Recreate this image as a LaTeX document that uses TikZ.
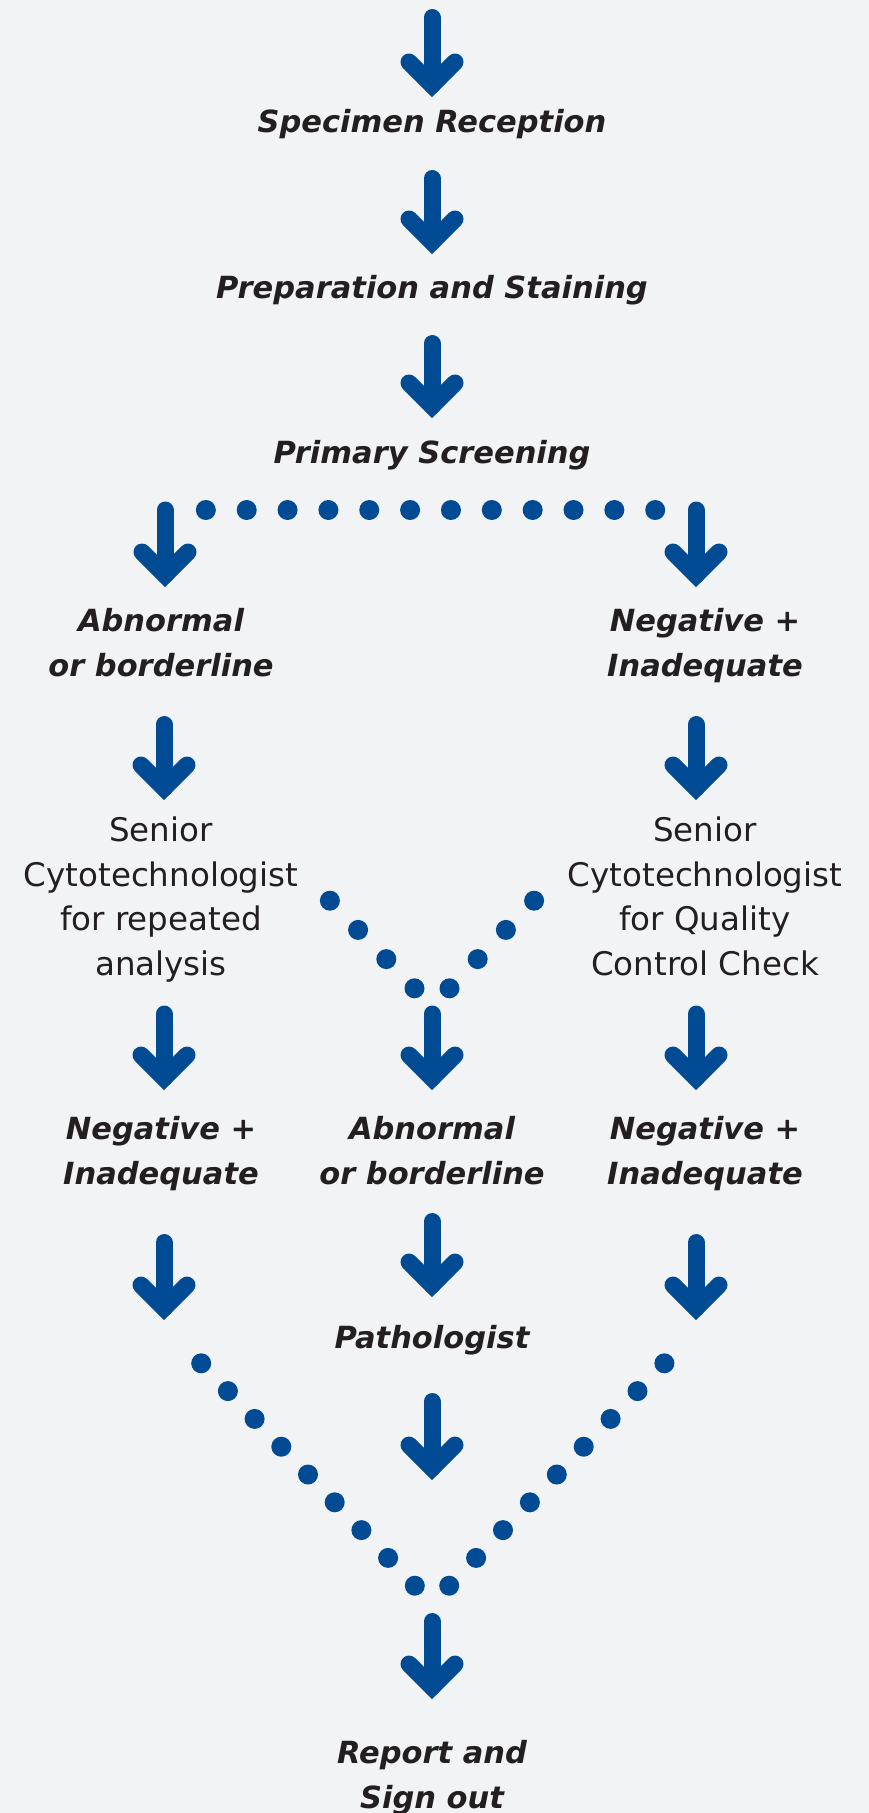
\documentclass[tikz,border=0pt]{standalone}
\usepackage{fontspec}
\setmainfont{DejaVu Sans}
\usetikzlibrary{calc}
\usetikzlibrary{positioning}

\definecolor{flowblue}{HTML}{004B93}
\definecolor{paper}{HTML}{F2F3F5}
\definecolor{ink}{HTML}{231F20}

\tikzset{
  arrowline/.style={draw=flowblue, line width=17pt, line cap=round},
  boldstep/.style={font=\fontsize{30.5}{45}\selectfont\bfseries\itshape, text=ink, align=center, inner sep=0pt,
    execute at begin node=\strut, execute at end node=\strut},
  plainstep/.style={font=\fontsize{32.5}{44.5}\selectfont, text=ink, align=center, inner sep=0pt,
    execute at begin node=\strut, execute at end node=\strut},
  flowdot/.style={fill=flowblue}
}

% thick arrow from #1 down to #2
\newcommand{\flowarrow}[2]{%
  \draw[arrowline] (#1) -- (#2);
  \draw[arrowline, line join=miter] ($(#2)+(-23,-23)$) -- (#2) -- ($(#2)+(23,-23)$);
}

\begin{document}
\begin{tikzpicture}[x=1pt, y=-1pt]
        \fill[paper] (0,0) rectangle (869,1813);
        \useasboundingbox (0,0) rectangle (869,1813);

        \node[boldstep] (reception) at (432,123) {Specimen Reception};
        \node[boldstep] (staining) at (432,289) {Preparation and Staining};
        \node[boldstep] (screening) at (432,454) {Primary Screening};

        \node[boldstep] (abnleft) at (161,649.5) {Abnormal\\or borderline};
        \node[boldstep] (negright) at (705,649.5) {Negative +\\Inadequate};

        \node[plainstep] (seniorleft) at (161,903) {Senior\\Cytotechnologist\\for repeated\\analysis};
        \node[plainstep] (seniorright) at (705,903) {Senior\\Cytotechnologist\\for Quality\\Control Check};

        \node[boldstep] (negleft) at (161,1157.5) {Negative +\\Inadequate};
        \node[boldstep] (abnmid) at (432,1157.5) {Abnormal\\or borderline};
        \node[boldstep] (negfar) at (705,1157.5) {Negative +\\Inadequate};

        \node[boldstep] (pathologist) at (432,1339) {Pathologist};
        \node[boldstep] (signout) at (432,1781) {Report and\\Sign out};

        % arrows: name/x/top/tip
        \foreach \n/\x/\t/\v in {a/432/17.5/85, b/432/178.5/242, c/432/343.5/406,
            d/165/510/575, e/696/510/575, f/164/724.5/788, g/696/724.5/788,
            h/164/1014/1078, i/432/1014/1078, j/696/1014/1078,
            k/164/1242.5/1308, l/432/1221.5/1285, m/696/1242.5/1308,
            n/432/1401.5/1468, o/432/1621.5/1687} {
          \coordinate (top\n) at (\x,\t);
          \coordinate (tip\n) at (\x,\v);
          \flowarrow{top\n}{tip\n}
        }

        % dotted branches
        \foreach \k in {1,...,12}
          \fill[flowdot] (165+40.85*\k,510) circle[radius=10pt];
        \foreach \k in {0,...,3} {
          \fill[flowdot] (414.5-28.2*\k,988.3-29.2*\k) circle[radius=10pt];
          \fill[flowdot] (449.5+28.2*\k,988.3-29.2*\k) circle[radius=10pt];
        }
        \foreach \k in {0,...,8} {
          \fill[flowdot] (414.8-26.7*\k,1585.7-27.8*\k) circle[radius=10pt];
          \fill[flowdot] (449.2+26.9*\k,1585.7-27.8*\k) circle[radius=10pt];
        }
\end{tikzpicture}
\end{document}
